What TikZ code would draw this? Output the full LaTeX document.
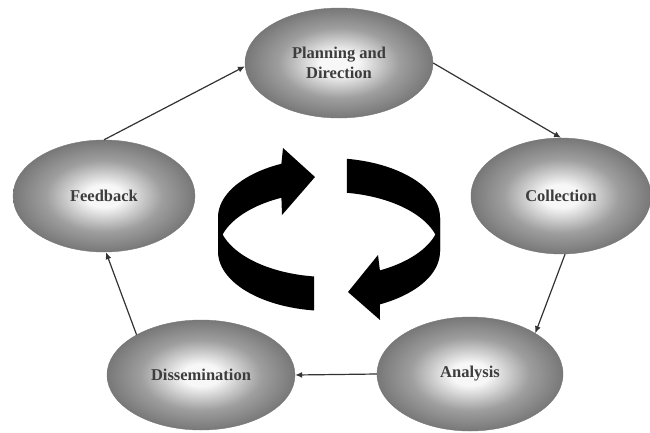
\documentclass[tikz,border=0pt]{standalone}
\usepackage{fontspec}
\setmainfont{Liberation Serif}
\usetikzlibrary{shapes.geometric,arrows.meta}
\definecolor{rimgray}{gray}{0.47}
\definecolor{midgray}{gray}{0.62}
\definecolor{ctrgray}{gray}{0.97}
\definecolor{txtgray}{gray}{0.24}
\definecolor{lngray}{gray}{0.2}
\pgfdeclareradialshading{ellshade}{\pgfpoint{0bp}{0bp}}{color(0bp)=(ctrgray); color(5bp)=(ctrgray); color(16bp)=(midgray); color(25bp)=(rimgray); color(50bp)=(rimgray)}
\tikzset{
  stage/.style={ellipse, shading=ellshade, draw=rimgray, line width=0.4pt,
    minimum width=186pt, minimum height=112pt, inner sep=0pt, align=center,
    font=\fontsize{16.5}{20}\selectfont\bfseries, text=txtgray},
  flow/.style={draw=lngray, line width=1.2pt, -{Latex[length=7pt,width=6pt]}},
  ribbon/.style={fill=black}
}
\begin{document}
\begin{tikzpicture}[x=1pt,y=-1pt]
\useasboundingbox (0,0) rectangle (650,432);
\fill[white] (0,0) rectangle (650,432);
\node[stage, minimum width=188pt, minimum height=110pt] (pd) at (339,63) {Planning and\\Direction};
\node[stage, minimum width=182pt] (fb) at (104,196) {Feedback};
\node[stage, minimum width=180pt, minimum height=116pt] (col) at (561,196) {Collection};
\node[stage, minimum width=186pt, minimum height=114pt] (ana) at (470,374) {Analysis};
\node[stage, minimum width=188pt, minimum height=110pt] (dis) at (201,375) {Dissemination};
\draw[flow] (fb.north) -- (pd.182);
\draw[flow] (pd.east) -- (col.north);
\draw[flow] (col.-86) -- (ana.32);
\draw[flow] (ana.west) -- (dis.east);
\draw[flow] (dis.148) -- (fb.-88);
% central circular arrows
\def\ecx{329}\def\erx{111}\def\ery{59.5}\def\ecya{217.5}\def\ecyb{251.5}
\fill[ribbon] plot[domain=97.7:180,samples=40] ({\ecx+\erx*cos(\x)},{\ecya+\ery*sin(\x)})
  -- plot[domain=180:97.7,samples=40] ({\ecx+\erx*cos(\x)},{\ecyb+\ery*sin(\x)}) -- cycle;
\fill[ribbon] plot[domain=180:244.6,samples=40] ({\ecx+\erx*cos(\x)},{\ecya+\ery*sin(\x)})
  -- (283,148) -- (315,177) -- (282,215)
  -- plot[domain=244.6:180,samples=40] ({\ecx+\erx*cos(\x)},{\ecyb+\ery*sin(\x)}) -- cycle;
\fill[ribbon] plot[domain=279.3:360,samples=40] ({\ecx+\erx*cos(\x)},{\ecya+\ery*sin(\x)})
  -- plot[domain=360:279.3,samples=40] ({\ecx+\erx*cos(\x)},{\ecyb+\ery*sin(\x)}) -- cycle;
\fill[ribbon] plot[domain=0:62.7,samples=40] ({\ecx+\erx*cos(\x)},{\ecya+\ery*sin(\x)})
  -- (378,255) -- (348,292) -- (380,320)
  -- plot[domain=62.7:0,samples=40] ({\ecx+\erx*cos(\x)},{\ecyb+\ery*sin(\x)}) -- cycle;
\end{tikzpicture}
\end{document}
